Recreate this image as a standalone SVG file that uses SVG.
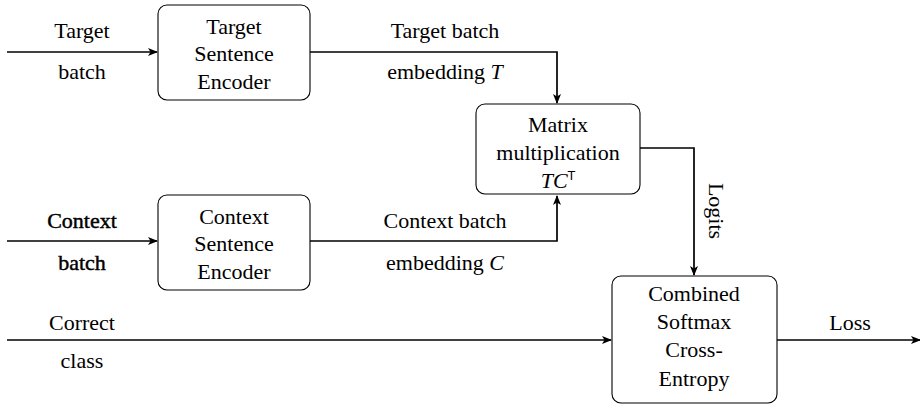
<svg xmlns="http://www.w3.org/2000/svg" width="920" height="406" viewBox="0 0 920 406">
<style>
svg text{font-size:22px;fill:#000;text-anchor:middle}
#connectors text,#connectors tspan,#target-encoder text,#context-encoder text,#matrix-mult text,#matrix-mult tspan,#softmax-ce text{font-family:'Liberation Serif','Times New Roman',serif !important}
#matrix-mult tspan.sup{font-family:'DejaVu Sans',sans-serif !important;font-size:12px;font-style:normal}
.it{font-style:italic}
.box{fill:#fff;stroke:#000;stroke-width:1.1}
.c{fill:none;stroke:#000;stroke-width:1.7}
#connectors text.hv{stroke:#000;stroke-width:0.45}
</style>
<defs>
<marker id="ah" viewBox="0 0 10 10" refX="9" refY="5" markerWidth="10" markerHeight="10" markerUnits="userSpaceOnUse" orient="auto">
<path d="M0,1 L10,5 L0,9 L2.5,5 Z" fill="#000"/>
</marker>
</defs>
<g id="connectors">
<line class="c" x1="7" y1="52" x2="157" y2="52" marker-end="url(#ah)"/>
<polyline class="c" points="310,52 557,52 557,103" marker-end="url(#ah)"/>
<line class="c" x1="7" y1="241" x2="157" y2="241" marker-end="url(#ah)"/>
<polyline class="c" points="310,241 557,241 557,196" marker-end="url(#ah)"/>
<polyline class="c" points="640,148 694,148 694,275" marker-end="url(#ah)"/>
<line class="c" x1="7" y1="340" x2="611" y2="340" marker-end="url(#ah)"/>
<line class="c" x1="777" y1="340" x2="920" y2="340" marker-end="url(#ah)"/>
<text x="82" y="38">Target</text>
<text x="82" y="79">batch</text>
<text x="445" y="38">Target batch</text>
<text x="445" y="79">embedding <tspan class="it">T</tspan></text>
<text class="hv" x="82" y="228">Context</text>
<text class="hv" x="82" y="270">batch</text>
<text x="445" y="228">Context batch</text>
<text x="445" y="270">embedding <tspan class="it">C</tspan></text>
<text x="0" y="0" transform="translate(709,211) rotate(90)">Logits</text>
<text x="82" y="330">Correct</text>
<text x="82" y="368">class</text>
<text x="850" y="330">Loss</text>
</g>
<g id="target-encoder">
<rect class="box" x="158" y="5" width="152" height="95" rx="9"/>
<text x="234" y="34">Target</text>
<text x="234" y="61">Sentence</text>
<text x="234" y="89">Encoder</text>
</g>
<g id="context-encoder">
<rect class="box" x="158" y="195" width="152" height="95" rx="9"/>
<text x="234" y="224">Context</text>
<text x="234" y="251">Sentence</text>
<text x="234" y="279">Encoder</text>
</g>
<g id="matrix-mult">
<rect class="box" x="476" y="104" width="164" height="90" rx="9"/>
<text x="558" y="132">Matrix</text>
<text x="558" y="160">multiplication</text>
<text x="558" y="188"><tspan class="it">TC</tspan><tspan class="sup" dy="-8">T</tspan></text>
</g>
<g id="softmax-ce">
<rect class="box" x="612" y="276" width="165" height="127" rx="9"/>
<text x="694" y="301">Combined</text>
<text x="694" y="329">Softmax</text>
<text x="694" y="357">Cross-</text>
<text x="694" y="386">Entropy</text>
</g>
</svg>
